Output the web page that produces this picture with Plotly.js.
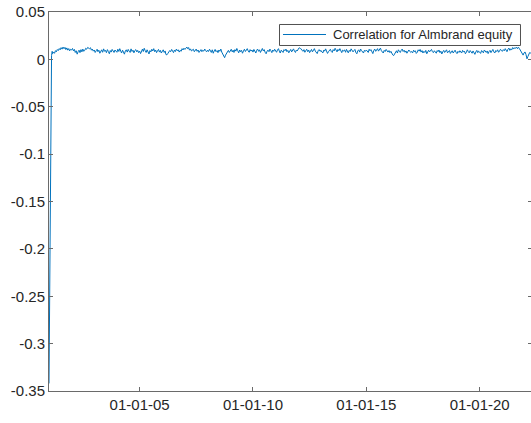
<!DOCTYPE html>
<html>
<head>
<meta charset="utf-8">
<script src="https://cdn.plot.ly/plotly-3.0.1.min.js"></script>
<style>
html, body { margin: 0; padding: 0; overflow: hidden; background: #fff; }
#chart { width: 532px; height: 423px; }
</style>
</head>
<body>
<div id="chart"></div>
<script>
// ---- data ----
var seriesName = 'Correlation for Almbrand equity';

// first weeks (steep rise from the start value)
var headDates = ['2001-01-02', '2001-01-12', '2001-01-22', '2001-02-01', '2001-02-12', '2001-02-22'];
var headValues = [-0.342, -0.26, -0.18, -0.06, 0.004, 0.0085];

// semi-monthly readings (1st and 16th), March 2001 .. April 2022
var semiMonthlyStart = '2001-03';
var semiMonthlyValues = [
  .0060,.0078,.0064,.0092,.0080,.0104,.0093,.0114,.0101,.0124,.0108,.0130,.0112,.0127,.0103,.0121,.0097,.0114,.0090,.0106,
  .0099,.0115,.0089,.0105,.0073,.0091,.0055,.0081,.0097,.0071,.0103,.0079,.0109,.0085,.0095,.0117,.0107,.0126,.0121,.0113,.0123,.0097,.0109,.0087,
  .0099,.0073,.0091,.0107,.0081,.0097,.0065,.0089,.0101,.0075,.0111,.0085,.0095,.0071,.0103,.0083,.0059,.0093,.0077,.0105,.0087,.0073,.0099,.0089,
  .0075,.0107,.0083,.0113,.0093,.0067,.0097,.0081,.0055,.0089,.0101,.0077,.0105,.0087,.0073,.0111,.0083,.0097,.0069,.0093,.0103,.0079,.0095,.0071,
  .0087,.0061,.0095,.0109,.0083,.0117,.0091,.0073,.0101,.0085,.0057,.0093,.0079,.0107,.0089,.0113,.0081,.0099,.0071,.0091,.0105,.0077,.0095,.0067,
  .0085,.0101,.0073,.0089,.0051,.0048,.0063,.0075,.0093,.0081,.0105,.0087,.0071,.0099,.0083,.0109,.0091,.0101,.0077,.0095,.0085,.0113,.0099,.0118,
  .0105,.0118,.0130,.0112,.0125,.0097,.0111,.0089,.0095,.0107,.0081,.0101,.0109,.0085,.0099,.0073,.0091,.0103,.0081,.0097,.0087,.0109,.0093,.0079,
  .0097,.0083,.0107,.0091,.0073,.0101,.0065,.0089,.0105,.0081,.0093,.0071,.0099,.0085,.0109,.0077,.0055,.0030,.0018,.0045,.0063,.0083,.0095,.0073,
  .0091,.0107,.0079,.0097,.0073,.0103,.0087,.0115,.0091,.0069,.0099,.0081,.0095,.0065,.0089,.0107,.0083,.0097,.0113,.0089,.0075,.0103,.0087,.0099,
  .0077,.0105,.0091,.0067,.0095,.0109,.0085,.0101,.0073,.0093,.0115,.0089,.0103,.0075,.0059,.0087,.0097,.0081,.0109,.0091,.0071,.0099,.0085,.0107,
  .0093,.0075,.0101,.0113,.0087,.0067,.0097,.0083,.0073,.0103,.0091,.0109,.0081,.0095,.0069,.0087,.0105,.0079,.0093,.0111,.0085,.0073,.0099,.0089,
  .0109,.0123,.0115,.0111,.0097,.0085,.0103,.0075,.0093,.0107,.0081,.0099,.0071,.0089,.0105,.0079,.0095,.0113,.0087,.0075,.0061,.0091,.0103,.0085,
  .0095,.0077,.0069,.0099,.0087,.0111,.0093,.0063,.0081,.0097,.0107,.0083,.0073,.0103,.0089,.0117,.0095,.0079,.0105,.0091,.0113,.0085,.0071,.0097,
  .0087,.0101,.0075,.0105,.0091,.0069,.0095,.0083,.0111,.0097,.0079,.0093,.0105,.0073,.0059,.0089,.0101,.0077,.0109,.0093,.0081,.0067,.0095,.0085,
  .0099,.0083,.0073,.0107,.0091,.0103,.0077,.0061,.0093,.0109,.0085,.0097,.0113,.0087,.0101,.0119,.0091,.0075,.0067,.0095,.0083,.0105,.0089,.0077,
  .0093,.0071,.0085,.0059,.0047,.0040,.0055,.0077,.0091,.0067,.0101,.0085,.0073,.0095,.0109,.0083,.0097,.0075,.0089,.0065,.0081,.0099,.0087,.0073,
  .0083,.0069,.0097,.0081,.0091,.0063,.0075,.0101,.0087,.0105,.0077,.0093,.0067,.0085,.0073,.0095,.0059,.0083,.0097,.0079,.0089,.0105,.0081,.0071,
  .0091,.0075,.0065,.0093,.0081,.0099,.0071,.0087,.0057,.0079,.0095,.0073,.0085,.0101,.0069,.0083,.0093,.0063,.0077,.0091,.0067,.0081,.0097,.0075,
  .0061,.0085,.0073,.0091,.0079,.0067,.0095,.0077,.0087,.0059,.0075,.0101,.0083,.0069,.0093,.0081,.0065,.0089,.0073,.0053,.0079,.0095,.0071,.0087,
  .0077,.0063,.0093,.0081,.0069,.0099,.0085,.0073,.0089,.0061,.0083,.0095,.0071,.0091,.0105,.0079,.0067,.0093,.0083,.0101,.0075,.0089,.0107,.0093,
  .0085,.0103,.0091,.0113,.0097,.0081,.0107,.0119,.0095,.0111,.0101,.0125,.0109,.0122,.0117,.0130,.0112,.0128,.0115,.0094,.0082,.0058,.0045,.0069,
  .0078,.0052,.0006,.0031,.0064,.0072,.0067,.0074
];

var xRange = ['2001-01-02', '2022-04-23'];
var xTickVals = ['2005-01-01', '2010-01-01', '2015-01-01', '2020-01-01'];
var xTickLabels = ['01-01-05', '01-01-10', '01-01-15', '01-01-20'];
var yTickVals = [0.05, 0, -0.05, -0.1, -0.15, -0.2, -0.25, -0.3, -0.35];
var yTickLabels = ['0.05', '0', '-0.05', '-0.1', '-0.15', '-0.2', '-0.25', '-0.3', '-0.35'];
var yRange = [-0.35, 0.05];

// ---- build the semi-monthly dates ----
function pad(n) { return (n < 10 ? '0' : '') + n; }
var sY = parseInt(semiMonthlyStart.slice(0, 4), 10);
var sM = parseInt(semiMonthlyStart.slice(5, 7), 10) - 1;
var semiMonthlyDates = semiMonthlyValues.map(function (v, i) {
  var m = sM + Math.floor(i / 2);
  return (sY + Math.floor(m / 12)) + '-' + pad(m % 12 + 1) + '-' + (i % 2 ? '16' : '01');
});

var x = headDates.concat(semiMonthlyDates);
var y = headValues.concat(semiMonthlyValues);

var fontFam = '"Liberation Sans", Arial, Helvetica, sans-serif';
var axisCol = '#6a6a6a';
var lineCol = '#0072BD';

var trace = {
  type: 'scatter', mode: 'lines', name: seriesName,
  x: x, y: y,
  line: { color: lineCol, width: 1 },
  showlegend: false
};

// MATLAB-style legend box (paper coordinates)
var legendShapes = [
  { type: 'rect', xref: 'paper', yref: 'paper', x0: 0.47723, x1: 0.97619, y0: 0.91161, y1: 0.96702,
    fillcolor: '#ffffff', line: { color: '#505050', width: 1 }, layer: 'above' },
  { type: 'line', xref: 'paper', yref: 'paper', x0: 0.48447, x1: 0.57350, y0: 0.94063, y1: 0.94063,
    line: { color: lineCol, width: 1 }, layer: 'above' }
];
var legendText = [
  { xref: 'paper', yref: 'paper', x: 0.5838, y: 0.9406, xanchor: 'left', yanchor: 'middle',
    text: seriesName, showarrow: false, font: { family: fontFam, size: 13, color: '#262626' } }
];

var layout = {
  width: 532, height: 423,
  margin: { l: 49, r: 0, t: 12, b: 32, pad: 0 },
  paper_bgcolor: '#ffffff', plot_bgcolor: '#ffffff',
  font: { family: fontFam, size: 15, color: '#262626' },
  showlegend: false,
  xaxis: {
    type: 'date', range: xRange, autorange: false,
    tickmode: 'array', tickvals: xTickVals, ticktext: xTickLabels,
    ticks: 'inside', ticklen: 4, tickwidth: 1, tickcolor: axisCol,
    showline: true, linecolor: axisCol, linewidth: 1, mirror: 'ticks',
    showgrid: false, zeroline: false,
    tickfont: { family: fontFam, size: 15, color: '#262626' }
  },
  yaxis: {
    range: yRange, autorange: false,
    tickmode: 'array', tickvals: yTickVals, ticktext: yTickLabels,
    ticks: 'inside', ticklen: 4, tickwidth: 1, tickcolor: axisCol,
    showline: true, linecolor: axisCol, linewidth: 1, mirror: 'ticks',
    showgrid: false, zeroline: false,
    tickfont: { family: fontFam, size: 15, color: '#262626' }
  },
  shapes: legendShapes,
  annotations: legendText
};

Plotly.newPlot('chart', [trace], layout, { staticPlot: true, displayModeBar: false });
</script>
</body>
</html>
